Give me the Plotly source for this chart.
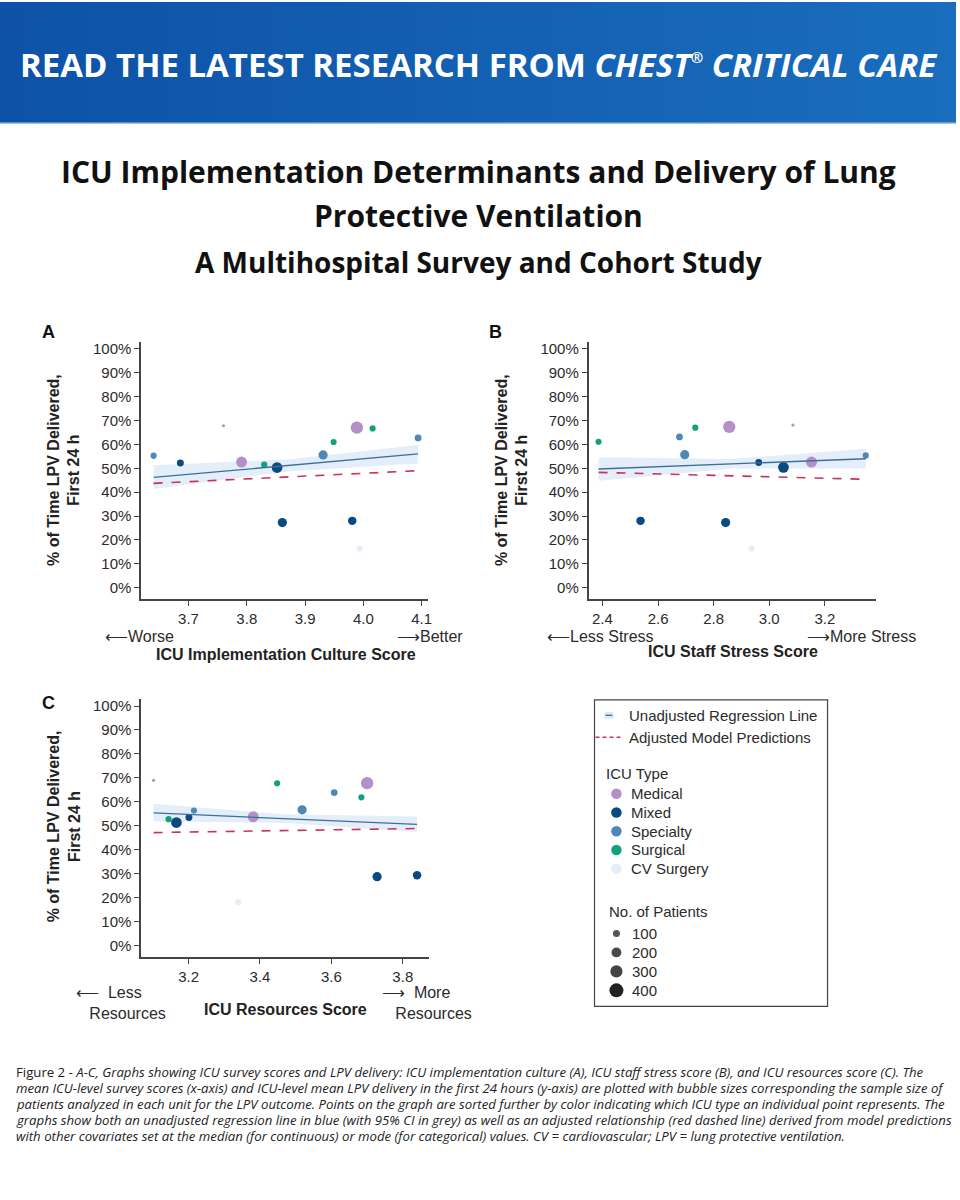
import plotly.graph_objects as go

W, H = 960, 1200

# ---------------- data ----------------
icu_types = ["Medical", "Mixed", "Specialty", "Surgical", "CV Surgery"]
type_colors = ["#B48FC8", "#0B4A80", "#4F87B5", "#12A27A", "#E4EEF8"]

# Panel A: ICU implementation culture score
a_x = [3.760, 3.791, 3.989, 3.852, 3.686, 3.861, 3.981, 3.931, 3.640, 4.094, 3.949, 4.016, 3.830, 3.994]
a_y = [67.8, 52.6, 67.0, 50.3, 52.2, 27.3, 28.0, 55.6, 55.3, 62.7, 61.0, 66.7, 51.5, 16.4]
a_type = ["Medical", "Medical", "Medical", "Mixed", "Mixed", "Mixed", "Mixed", "Specialty", "Specialty",
          "Specialty", "Surgical", "Surgical", "Surgical", "CV Surgery"]
a_n = [25, 300, 380, 290, 120, 215, 180, 215, 95, 115, 95, 95, 100, 95]
a_reg_x = [3.640, 4.094]
a_reg_y = [46.2, 56.0]
a_adj_y = [43.7, 49.0]
a_ci_x = [3.640, 3.870, 4.094]
a_ci_lo = [41.3, 48.7, 52.0]
a_ci_hi = [51.3, 53.7, 59.8]

# Panel B: ICU staff stress score
b_x = [3.085, 3.152, 2.856, 3.051, 2.962, 2.843, 2.537, 2.696, 3.347, 2.677, 2.386, 2.734, 2.936]
b_y = [68.1, 52.6, 67.3, 50.4, 52.4, 27.3, 28.0, 55.7, 55.4, 63.1, 61.1, 67.0, 16.4]
b_type = ["Medical", "Medical", "Medical", "Mixed", "Mixed", "Mixed", "Mixed", "Specialty", "Specialty",
          "Specialty", "Surgical", "Surgical", "CV Surgery"]
b_n = [25, 300, 380, 290, 120, 215, 180, 215, 95, 115, 95, 95, 95]
b_reg_x = [2.386, 3.347]
b_reg_y = [49.7, 54.0]
b_adj_y = [48.3, 45.4]
b_ci_x = [2.386, 2.870, 3.347]
b_ci_lo = [44.8, 49.9, 49.9]
b_ci_hi = [54.6, 53.9, 58.2]

# Panel C: ICU resources score
c_x = [3.102, 3.381, 3.700, 3.166, 3.201, 3.728, 3.840, 3.518, 3.215, 3.608, 3.684, 3.448, 3.144, 3.339]
c_y = [69.0, 53.8, 67.8, 51.4, 53.5, 28.8, 29.4, 56.7, 56.4, 63.9, 61.9, 67.8, 52.8, 18.1]
c_type = ["Medical", "Medical", "Medical", "Mixed", "Mixed", "Mixed", "Mixed", "Specialty", "Specialty",
          "Specialty", "Surgical", "Surgical", "Surgical", "CV Surgery"]
c_n = [25, 300, 380, 290, 120, 215, 180, 215, 95, 115, 95, 95, 100, 95]
c_reg_x = [3.102, 3.840]
c_reg_y = [55.4, 50.6]
c_adj_y = [47.2, 48.9]
c_ci_x = [3.102, 3.470, 3.840]
c_ci_lo = [51.9, 51.2, 47.4]
c_ci_hi = [59.2, 54.8, 53.9]

y_ticks = [0, 10, 20, 30, 40, 50, 60, 70, 80, 90, 100]
a_xticks = [3.7, 3.8, 3.9, 4.0, 4.1]
b_xticks = [2.4, 2.6, 2.8, 3.0, 3.2]
c_xticks = [3.2, 3.4, 3.6, 3.8]
legend_sizes = [100, 200, 300, 400]
legend_size_colors = ["#555555", "#4a4a4a", "#444444", "#222222"]

# ---------------- helpers ----------------
FONT = "Liberation Sans, Arial, Helvetica, sans-serif"
HEAD = "Open Sans, Roboto, Arial, sans-serif"
TXT = "#2b2b2b"
color_of = dict(zip(icu_types, type_colors))


def fx(p):
    return p / W


def fy(p):
    return 1 - p / H


def size_of(n):
    return 0.63 * n ** 0.5


fig = go.Figure()

panels = [
    ("x", "y", a_x, a_y, a_type, a_n, a_reg_x, a_reg_y, a_adj_y, a_ci_x, a_ci_lo, a_ci_hi),
    ("x2", "y2", b_x, b_y, b_type, b_n, b_reg_x, b_reg_y, b_adj_y, b_ci_x, b_ci_lo, b_ci_hi),
    ("x3", "y3", c_x, c_y, c_type, c_n, c_reg_x, c_reg_y, c_adj_y, c_ci_x, c_ci_lo, c_ci_hi),
]

for xa, ya, px, py, pt, pn, rx, ry, ay, cx, clo, chi in panels:
    fig.add_trace(go.Scatter(x=cx + cx[::-1], y=chi + clo[::-1], xaxis=xa, yaxis=ya,
                             fill="toself", fillcolor="rgba(196,218,240,0.45)",
                             line=dict(width=0), mode="lines", hoverinfo="skip", showlegend=False))
    fig.add_trace(go.Scatter(x=px, y=py, xaxis=xa, yaxis=ya, mode="markers",
                             marker=dict(color=[color_of[t] for t in pt], opacity=1,
                                         size=[size_of(n) for n in pn], line=dict(width=0)),
                             showlegend=False))
    fig.add_trace(go.Scatter(x=rx, y=ry, xaxis=xa, yaxis=ya, mode="lines",
                             line=dict(color="#3E6E9C", width=1.3), showlegend=False))
    fig.add_trace(go.Scatter(x=rx, y=ay, xaxis=xa, yaxis=ya, mode="lines",
                             line=dict(color="#C7325E", width=1.6, dash="dash"), showlegend=False))

# ---------------- overlay (pixel) axis for banner & legend ----------------
fig.add_trace(go.Scatter(x=[0, W, W, 0, 0], y=[0, 0, 122, 122, 0], xaxis="x4", yaxis="y4",
                         fill="toself", mode="lines", line=dict(width=0),
                         fillgradient=dict(type="horizontal",
                                           colorscale=[[0, "#0D52A6"], [1, "#1A6DBD"]]),
                         hoverinfo="skip", showlegend=False))
fig.add_trace(go.Scatter(x=[0, W], y=[121.5, 121.5], xaxis="x4", yaxis="y4", mode="lines",
                         line=dict(color="#9EC4E8", width=1.5), hoverinfo="skip", showlegend=False))

LX0, LY0, LX1, LY1 = 597, 699, 831, 1006
fig.add_trace(go.Scatter(x=[607, 616, 616, 607, 607], y=[711, 711, 718, 718, 711], xaxis="x4", yaxis="y4",
                         fill="toself", fillcolor="rgba(196,218,240,0.6)", mode="lines",
                         line=dict(width=0), hoverinfo="skip", showlegend=False))
fig.add_trace(go.Scatter(x=[608, 615], y=[714.5, 714.5], xaxis="x4", yaxis="y4", mode="lines",
                         line=dict(color="#3E6E9C", width=1.3), hoverinfo="skip", showlegend=False))
fig.add_trace(go.Scatter(x=[598, 626], y=[736.5, 736.5], xaxis="x4", yaxis="y4", mode="lines",
                         line=dict(color="#C7325E", width=1.4, dash="4px,3px"), hoverinfo="skip",
                         showlegend=False))
type_y0, type_dy = 793, 18.8
fig.add_trace(go.Scatter(x=[619] * len(icu_types), y=[type_y0 + i * type_dy for i in range(len(icu_types))],
                         xaxis="x4", yaxis="y4", mode="markers",
                         marker=dict(color=type_colors, size=10.5, opacity=1, line=dict(width=0)),
                         hoverinfo="skip", showlegend=False))
size_y0, size_dy = 933, 19
fig.add_trace(go.Scatter(x=[619] * len(legend_sizes), y=[size_y0 + i * size_dy for i in range(len(legend_sizes))],
                         xaxis="x4", yaxis="y4", mode="markers",
                         marker=dict(color=legend_size_colors, size=[0.7 * s ** 0.5 for s in legend_sizes],
                                     opacity=1, line=dict(width=0)),
                         hoverinfo="skip", showlegend=False))

annotations = []


def ann(text, x, y, size=15, bold=False, xanchor="center", yanchor="middle", color=TXT, family=FONT,
        angle=0, align="center"):
    annotations.append(dict(text=f"<b>{text}</b>" if bold else text, x=fx(x), y=fy(y), xref="paper",
                            yref="paper", showarrow=False, xanchor=xanchor, yanchor=yanchor, align=align,
                            textangle=angle, font=dict(size=size, color=color, family=family)))


for i, t in enumerate(icu_types):
    ann(t, 632, type_y0 + i * type_dy, size=15, xanchor="left")
for i, s in enumerate(legend_sizes):
    ann(str(s), 633, size_y0 + i * size_dy, size=15, xanchor="left")
ann("Unadjusted Regression Line", 630, 715, size=15, xanchor="left")
ann("Adjusted Model Predictions", 630, 737, size=15, xanchor="left")
ann("ICU Type", 607, 773, size=15, xanchor="left")
ann("No. of Patients", 610, 911, size=15, xanchor="left")

# header texts
ann("READ THE LATEST RESEARCH FROM <i>CHEST<sup><span style='font-size:15px'>®</span></sup> CRITICAL CARE</i>",
    481, 63, size=33, bold=True, color="white", family=HEAD)
ann("ICU Implementation Determinants and Delivery of Lung", 480, 170, size=30, bold=True,
    color="#111", family=HEAD)
ann("Protective Ventilation", 480, 214, size=30, bold=True, color="#111", family=HEAD)
ann("A Multihospital Survey and Cohort Study", 480, 260, size=28, bold=True, color="#111", family=HEAD)

# panel letters
ann("A", 49, 331, size=18, bold=True, color="#111")
ann("B", 498, 331, size=18, bold=True, color="#111")
ann("C", 49, 702, size=18, bold=True, color="#111")

# y-axis titles
ytitle = "% of Time LPV Delivered,<br>First 24 h"
ann(ytitle, 64, 469, size=16, bold=True, angle=-90, color="#222")
ann(ytitle, 514, 469, size=16, bold=True, angle=-90, color="#222")
ann(ytitle, 64, 826, size=16, bold=True, angle=-90, color="#222")

# x-axis titles and direction labels
ann("ICU Implementation Culture Score", 287, 654, size=16, bold=True, color="#222")
ann("⟵Worse", 103, 636, size=16, xanchor="left")
ann("⟶Better", 397, 636, size=16, xanchor="left")
ann("ICU Staff Stress Score", 736, 651, size=16, bold=True, color="#222")
ann("⟵Less Stress", 547, 636, size=16, xanchor="left")
ann("⟶More Stress", 808, 636, size=16, xanchor="left")
ann("ICU Resources Score", 287, 1009, size=16, bold=True, color="#222")
ann("⟵  Less<br>   Resources", 74, 1003, size=16, xanchor="left", align="left")
ann("⟶  More<br>   Resources", 382, 1003, size=16, xanchor="left", align="left")

# caption (one annotation per line)
cap_lines = [
    "Figure 2 - <i>A-C, Graphs showing ICU survey scores and LPV delivery: ICU implementation culture (A), "
    "ICU staff stress score (B), and ICU resources score (C). The</i>",
    "<i>mean ICU-level survey scores (x-axis) and ICU-level mean LPV delivery in the first 24 hours (y-axis) "
    "are plotted with bubble sizes corresponding the sample size of</i>",
    "<i>patients analyzed in each unit for the LPV outcome. Points on the graph are sorted further by color "
    "indicating which ICU type an individual point represents. The</i>",
    "<i>graphs show both an unadjusted regression line in blue (with 95% CI in grey) as well as an adjusted "
    "relationship (red dashed line) derived from model predictions</i>",
    "<i>with other covariates set at the median (for continuous) or mode (for categorical) values. "
    "CV = cardiovascular; LPV = lung protective ventilation.</i>",
]
for i, line in enumerate(cap_lines):
    ann(line, 14, 1072 + 16 * i, size=13.2, xanchor="left", color="#222", family=HEAD, align="left")

shapes = [dict(type="rect", xref="paper", yref="paper", x0=fx(LX0), x1=fx(LX1), y0=fy(LY1), y1=fy(LY0),
               line=dict(color="#444", width=1.2), fillcolor="rgba(0,0,0,0)")]


def xaxis_cfg(x0, x1, rng, ticks, anchor):
    return dict(domain=[fx(x0), fx(x1)], range=rng, tickvals=ticks, ticktext=[f"{t:.1f}" for t in ticks],
                showline=True, linecolor="#444", linewidth=1.5, ticks="outside", ticklen=5, tickwidth=1.2,
                tickcolor="#444", showgrid=False, zeroline=False, anchor=anchor,
                tickfont=dict(size=15, color=TXT, family=FONT), fixedrange=True)


def yaxis_cfg(y0, y1, rng, anchor):
    return dict(domain=[fy(y1), fy(y0)], range=rng, tickvals=y_ticks, ticktext=[f"{t}%" for t in y_ticks],
                showline=True, linecolor="#444", linewidth=1.5, ticks="outside", ticklen=5, tickwidth=1.2,
                tickcolor="#444", showgrid=False, zeroline=False, anchor=anchor,
                tickfont=dict(size=15, color=TXT, family=FONT), fixedrange=True)


fig.update_layout(
    width=W, height=H, margin=dict(l=0, r=0, t=0, b=0),
    paper_bgcolor="white", plot_bgcolor="rgba(0,0,0,0)", showlegend=False,
    xaxis=xaxis_cfg(141.7, 430, [3.6186, 4.1114], a_xticks, "y"),
    yaxis=yaxis_cfg(340.7, 598, [-4.7, 102.8], "x"),
    xaxis2=xaxis_cfg(591, 880, [2.35, 3.385], b_xticks, "y2"),
    yaxis2=yaxis_cfg(340.7, 598, [-4.7, 102.8], "x2"),
    xaxis3=xaxis_cfg(141.7, 431, [3.067, 3.874], c_xticks, "y3"),
    yaxis3=yaxis_cfg(698, 956.7, [-4.75, 103.0], "x3"),
    xaxis4=dict(domain=[0, 1], range=[0, W], visible=False, anchor="y4", fixedrange=True),
    yaxis4=dict(domain=[0, 1], range=[H, 0], visible=False, anchor="x4", fixedrange=True),
    annotations=annotations, shapes=shapes,
)

fig.write_html("out.html", config={"displayModeBar": False},
               post_script="document.body.style.margin='0';document.body.style.padding='0';"
                           "document.documentElement.style.overflow='hidden';")
